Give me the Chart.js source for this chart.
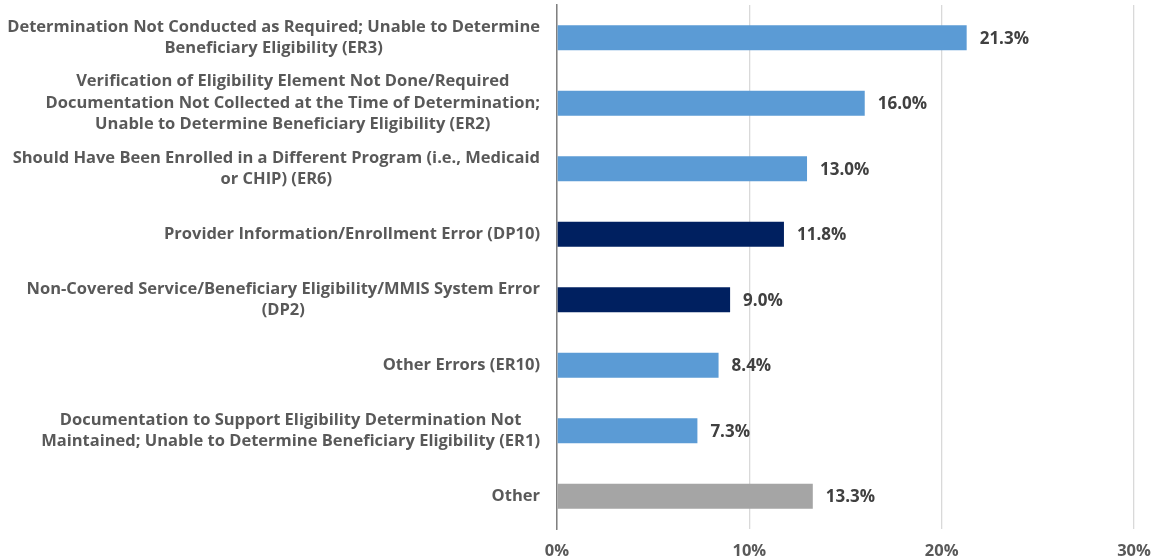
<!DOCTYPE html>
<html>
<head>
<meta charset="utf-8">
<script src="https://cdn.jsdelivr.net/npm/chart.js@4"></script>
<style>
  html, body { margin: 0; padding: 0; background: #fff; }
  #wrap { width: 1156px; height: 560px; }
</style>
</head>
<body>
<div id="wrap"><canvas id="errChart" width="1156" height="560"></canvas></div>
<script>
// Categories (each label split into its printed lines)
const categories = [
  ["Determination Not Conducted as Required; Unable to Determine", "Beneficiary Eligibility (ER3)"],
  ["Verification of Eligibility Element Not Done/Required", "Documentation Not Collected at the Time of Determination;", "Unable to Determine Beneficiary Eligibility (ER2)"],
  ["Should Have Been Enrolled in a Different Program (i.e., Medicaid", "or CHIP) (ER6)"],
  ["Provider Information/Enrollment Error (DP10)"],
  ["Non-Covered Service/Beneficiary Eligibility/MMIS System Error", "(DP2)"],
  ["Other Errors (ER10)"],
  ["Documentation to Support Eligibility Determination Not", "Maintained; Unable to Determine Beneficiary Eligibility (ER1)"],
  ["Other"]
];
const values = [21.3, 16.0, 13.0, 11.8, 9.0, 8.4, 7.3, 13.3];
const barColors = ["#5B9BD5", "#5B9BD5", "#5B9BD5", "#002060", "#002060", "#5B9BD5", "#5B9BD5", "#A5A5A5"];
const xTicks = [0, 10, 20, 30];

const FONT = "'Open Sans', Lato, sans-serif";
const TEXT_GRAY = "#595959";

// draws the centered multi-line category labels, right-aligned as a block
const categoryLabels = {
  id: "categoryLabels",
  afterDraw(chart) {
    const ctx = chart.ctx;
    const y = chart.scales.y;
    const right = 540;
    const lineH = 21.5;
    ctx.save();
    ctx.font = "bold 16.5px " + FONT;
    ctx.fillStyle = TEXT_GRAY;
    ctx.textAlign = "center";
    ctx.textBaseline = "middle";
    categories.forEach((lines, i) => {
      const maxW = Math.max(...lines.map((l) => ctx.measureText(l).width));
      const cx = right - maxW / 2;
      const cy = y.getPixelForValue(i);
      const top = cy - ((lines.length - 1) * lineH) / 2;
      lines.forEach((l, j) => ctx.fillText(l, cx, top + j * lineH));
    });
    ctx.restore();
  }
};

// value labels at the bar ends
const valueLabels = {
  id: "valueLabels",
  afterDatasetsDraw(chart) {
    const ctx = chart.ctx;
    const meta = chart.getDatasetMeta(0);
    ctx.save();
    ctx.font = "bold 17px " + FONT;
    ctx.fillStyle = "#404040";
    ctx.textAlign = "left";
    ctx.textBaseline = "middle";
    meta.data.forEach((bar, i) => {
      ctx.fillText(values[i].toFixed(1) + "%", bar.x + 13, bar.y + 1);
    });
    ctx.restore();
  }
};

new Chart(document.getElementById("errChart"), {
  type: "bar",
  data: {
    labels: categories.map((c) => c.join(" ")),
    datasets: [
      {
        data: values,
        backgroundColor: barColors,
        categoryPercentage: 1,
        barPercentage: 0.38
      }
    ]
  },
  options: {
    indexAxis: "y",
    responsive: false,
    animation: false,
    layout: { padding: { top: 5, right: 22, left: 0, bottom: 0 } },
    plugins: { legend: { display: false }, tooltip: { enabled: false } },
    scales: {
      x: {
        min: 0,
        max: 30,
        afterBuildTicks: (scale) => {
          scale.ticks = xTicks.map((v) => ({ value: v }));
        },
        afterFit: (scale) => {
          scale.height = 31;
          scale.paddingLeft = 0;
          scale.paddingRight = 0;
        },
        grid: { color: "#D9D9D9", lineWidth: 1.3, drawTicks: false },
        border: { display: false },
        ticks: {
          padding: 12,
          color: TEXT_GRAY,
          font: { family: FONT, size: 16.5, weight: "bold" },
          callback: (v) => v + "%"
        }
      },
      y: {
        afterFit: (scale) => { scale.width = 557; },
        grid: { display: false, drawTicks: false },
        border: { display: true, color: "#808080", width: 1.5 },
        ticks: { display: false }
      }
    }
  },
  plugins: [categoryLabels, valueLabels]
});
</script>
</body>
</html>
